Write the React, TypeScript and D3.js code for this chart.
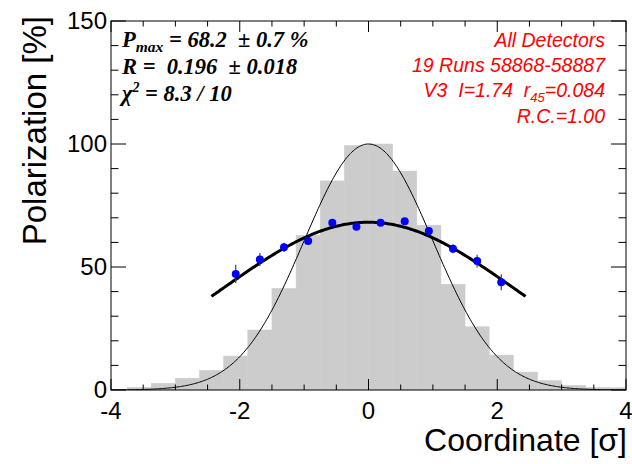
import React from "react";
import * as d3 from "d3";

const W = 632;
const H = 464;

// Histogram (beam intensity profile), bin edges and contents
const binEdges = [-3.75, -3.375, -3.0, -2.625, -2.25, -1.875, -1.5, -1.125, -0.75, -0.375, 0, 0.375, 0.75, 1.125, 1.5, 1.875, 2.25, 2.625, 3.0, 3.375, 3.75, 4.125];
const binValues = [1.1, 2.7, 4.8, 8.0, 13.8, 24.4, 41.3, 62.9, 85.0, 99.4, 100.0, 89.0, 67.0, 43.0, 25.7, 14.2, 7.3, 3.8, 1.9, 1.1, 0.9];

// Polarization measurements
const pointX = [-2.0625, -1.6875, -1.3125, -0.9375, -0.5625, -0.1875, 0.1875, 0.5625, 0.9375, 1.3125, 1.6875, 2.0625];
const pointY = [47.2, 53.0, 58.0, 60.6, 68.0, 66.4, 68.0, 68.6, 64.6, 57.4, 52.4, 43.8];
const pointErr = [3.7, 2.7, 1.9, 1.2, 1.0, 0.8, 0.8, 1.0, 1.2, 1.8, 2.6, 3.3];

// Fit parameters
const Pmax = 68.2;
const Rfit = 0.196;
const fitRange = [-2.44, 2.44];

const xTickLabels = [-4, -2, 0, 2, 4];
const yTickLabels = [0, 50, 100, 150];

const redLines = ["All Detectors", "19 Runs 58868-58887"];

export default function App() {
  const left = 111, right = 626, top = 21, bottom = 390;
  const x = d3.scaleLinear().domain([-4, 4]).range([left, right]);
  const y = d3.scaleLinear().domain([0, 150]).range([bottom, top]);

  const gaussPts = d3.range(-4, 4.0001, 0.02).map((t) => [t, 100 * Math.exp(-t * t / 2)] as [number, number]);
  const fitPts = d3.range(fitRange[0], fitRange[1] + 0.0001, 0.02).map((t) => [t, Pmax * Math.exp(-Rfit * t * t / 2)] as [number, number]);
  const line = d3.line<[number, number]>().x((d) => x(d[0])).y((d) => y(d[1]));

  const xMinor = d3.range(-4, 4.0001, 0.5);
  const yMinor = d3.range(0, 150.0001, 10);

  const sans = "'Liberation Sans', Arial, Helvetica, sans-serif";
  const serif = "'Liberation Serif', 'Times New Roman', serif";

  return (
    <svg width={W} height={H} style={{ position: "absolute", left: 0, top: 0, background: "#fff" }}>
      <defs>
        <clipPath id="frame">
          <rect x={left} y={top} width={right - left} height={bottom - top} />
        </clipPath>
      </defs>
      <rect x={0} y={0} width={W} height={H} fill="#fff" />
      <g clipPath="url(#frame)">
        {binValues.map((v, i) => (
          <rect key={i} x={x(binEdges[i])} y={y(v)} width={x(binEdges[i + 1]) - x(binEdges[i])} height={y(0) - y(v)} fill="#cccccc" stroke="#cccccc" strokeWidth={0.5} />
        ))}
        <path d={line(gaussPts) || ""} fill="none" stroke="#000" strokeWidth={1} />
        <path d={line(fitPts) || ""} fill="none" stroke="#000" strokeWidth={3} />
        {pointX.map((px, i) => (
          <g key={i}>
            <line x1={x(px)} x2={x(px)} y1={y(pointY[i] - pointErr[i])} y2={y(pointY[i] + pointErr[i])} stroke="#444" strokeWidth={1.2} />
            <circle cx={x(px)} cy={y(pointY[i])} r={4} fill="#0000ff" />
          </g>
        ))}
      </g>
      {/* frame */}
      <rect x={left} y={top} width={right - left} height={bottom - top} fill="none" stroke="#000" strokeWidth={1} />
      {/* x ticks bottom and top */}
      {xMinor.map((t, i) => {
        const major = Math.abs(t / 2 - Math.round(t / 2)) < 1e-6;
        const len = major ? 11 : 5.5;
        return (
          <g key={"xt" + i}>
            <line x1={x(t)} x2={x(t)} y1={bottom} y2={bottom - len} stroke="#000" />
            <line x1={x(t)} x2={x(t)} y1={top} y2={top + len} stroke="#000" />
          </g>
        );
      })}
      {yMinor.map((t, i) => {
        const major = t % 50 === 0;
        const len = major ? 15 : 7.5;
        return (
          <g key={"yt" + i}>
            <line x1={left} x2={left + len} y1={y(t)} y2={y(t)} stroke="#000" />
            <line x1={right} x2={right - len} y1={y(t)} y2={y(t)} stroke="#000" />
          </g>
        );
      })}
      {xTickLabels.map((t) => (
        <text key={"xl" + t} x={x(t)} y={419} textAnchor="middle" fontFamily={sans} fontSize={24}>{t}</text>
      ))}
      {yTickLabels.map((t) => (
        <text key={"yl" + t} x={107} y={y(t) + 8} textAnchor="end" fontFamily={sans} fontSize={24}>{t}</text>
      ))}
      <text x={627} y={451} textAnchor="end" fontFamily={sans} fontSize={32}>Coordinate [σ]</text>
      <text transform="translate(46,16) rotate(-90)" textAnchor="end" fontFamily={sans} fontSize={33}>Polarization [%]</text>

      {/* fit results */}
      <g fontFamily={serif} fontWeight="bold" fontStyle="italic" fontSize={22.5}>
        <text x={122} y={47} xmlSpace="preserve">
          <tspan>P</tspan>
          <tspan fontSize={15.5} dy={5}>max</tspan>
          <tspan dy={-5}>{" = 68.2  \u00b1 0.7 %"}</tspan>
        </text>
        <text x={122} y={74} xmlSpace="preserve">{"R =  0.196  \u00b1 0.018"}</text>
        <text x={122} y={101} xmlSpace="preserve">
          <tspan>χ</tspan>
          <tspan fontSize={14} dy={-9}>2</tspan>
          <tspan dy={9}>{" = 8.3 / 10"}</tspan>
        </text>
      </g>

      <g fontFamily={sans} fontStyle="italic" fontSize={19.5} fill="#ff0000" textAnchor="end">
        <text x={605} y={47}>{redLines[0]}</text>
        <text x={605} y={72}>{redLines[1]}</text>
        <text x={605} y={97} xmlSpace="preserve">
          <tspan>{"V3  I=1.74  r"}</tspan>
          <tspan fontSize={13} dy={5}>45</tspan>
          <tspan dy={-5}>=0.084</tspan>
        </text>
        <text x={605} y={123}>R.C.=1.00</text>
      </g>
    </svg>
  );
}
